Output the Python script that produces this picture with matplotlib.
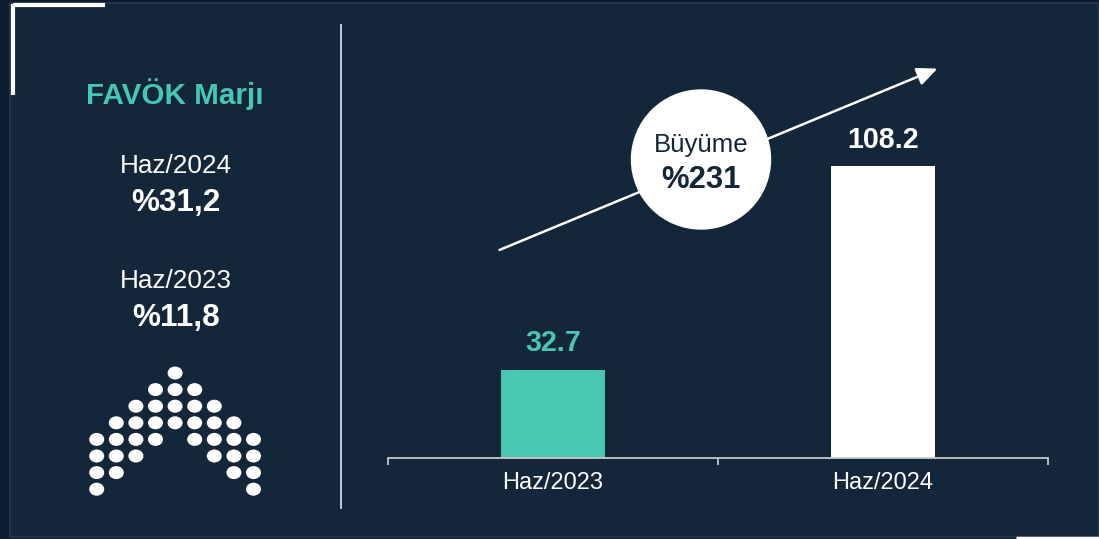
import matplotlib.pyplot as plt
from matplotlib.patches import Rectangle, Ellipse, Circle, FancyArrowPatch

# Data
categories = ["Haz/2023", "Haz/2024"]
values = [32.7, 108.2]
bar_colors = ["#47C6B0", "#FFFFFF"]
label_colors = ["#47C6B0", "#FFFFFF"]

growth_label = "Büyüme"
growth_value = "%231"

margin_title = "FAVÖK Marjı"
margin_periods = ["Haz/2024", "Haz/2023"]
margin_values = ["%31,2", "%11,8"]

# dot logo pattern (rows top to bottom, 9 columns)
logo_rows = [
    "....x....",
    "...xxx...",
    "..xxxxx..",
    ".xxxxxxx.",
    "xxxx.xxxx",
    "xxx...xxx",
    "xx.....xx",
    "x.......x",
]

BG = "#14263A"
TEAL = "#47C6B0"
plt.rcParams['font.family'] = ['Liberation Sans', 'DejaVu Sans']

W, H = 1099, 539
fig = plt.figure(figsize=(W / 100, H / 100), dpi=100)
fig.patch.set_facecolor("#0C1C2E")

# full-figure axes in pixel coordinates for the decoration
bg = fig.add_axes([0, 0, 1, 1])
bg.set_xlim(0, W)
bg.set_ylim(H, 0)
bg.axis("off")

bg.add_patch(Rectangle((10, 3), W - 10, 534, facecolor=BG, edgecolor="#22364A", lw=1.5, zorder=0))
# white corner brackets
bg.plot([13, 105], [5.3, 5.3], color="white", lw=3, solid_capstyle="butt", zorder=2)
bg.plot([13, 13], [3.5, 95], color="white", lw=3, solid_capstyle="butt", zorder=2)
bg.plot([1016, W], [537.5, 537.5], color="white", lw=2.5, solid_capstyle="butt", zorder=2)
# divider
bg.plot([340.8, 340.8], [25, 508], color="#D9D9D9", lw=1.3, zorder=2)

# left panel
bg.text(175, 104, margin_title, color=TEAL, fontsize=21.3, fontweight="bold", ha="center", va="baseline")
for i, (p, v) in enumerate(zip(margin_periods, margin_values)):
    y0 = 173.3 + i * 115
    bg.text(175.5, y0, p, color="white", fontsize=18.8, ha="center", va="baseline")
    bg.text(176, y0 + 37.5, v, color="white", fontsize=22.7, fontweight="bold", ha="center", va="baseline")

# logo dots
for r, row in enumerate(logo_rows):
    for c, ch in enumerate(row):
        if ch == "x":
            bg.add_patch(Ellipse((96.7 + c * 19.6, 373 + r * 16.6), 15, 13, color="white", lw=0, zorder=2))

# growth arrow and circle
bg.add_patch(FancyArrowPatch((497, 251), (940, 67.5), arrowstyle="-|>,head_length=5.6,head_width=2.5",
                             mutation_scale=2.2, color="white", lw=1.8, zorder=3))
bg.add_patch(Circle((701, 159.5), 69.5, facecolor="white", edgecolor="white", zorder=4))
bg.text(701, 151.7, growth_label, color=BG, fontsize=18.5, ha="center", va="baseline", zorder=5)
bg.text(700.5, 188.3, growth_value, color=BG, fontsize=22.3, fontweight="bold", ha="center", va="baseline", zorder=5)

# bar chart
ax = fig.add_axes([388 / W, (H - 458) / H, 660 / W, 358 / H])
ax.patch.set_alpha(0)
x = range(len(categories))
ax.bar(x, values, width=0.3156, color=bar_colors, zorder=2)
ax.set_xlim(-0.5, len(categories) - 0.5)
ax.set_ylim(0, 358 / 2.7)

for xi, v, col in zip(x, values, label_colors):
    ax.annotate(f"{v:.1f}", (xi, v), xytext=(0, 13.2), textcoords="offset points",
                ha="center", va="baseline", color=col, fontsize=20.6, fontweight="bold")

for s in ["top", "right", "left"]:
    ax.spines[s].set_visible(False)
ax.spines["bottom"].set_color("#C8C8C8")
ax.spines["bottom"].set_linewidth(1.3)
ax.set_yticks([])
ax.set_xticks([-0.5, 0.5, 1.5])
ax.set_xticklabels([])
ax.tick_params(axis="x", which="major", length=5, width=1.3, color="#C8C8C8")
ax.set_xticks(list(x), minor=True)
ax.set_xticklabels(categories, minor=True)
ax.tick_params(axis="x", which="minor", length=0, pad=10.4, labelsize=17, labelcolor="white")

fig.savefig("out.png", dpi=100, facecolor=fig.get_facecolor())
